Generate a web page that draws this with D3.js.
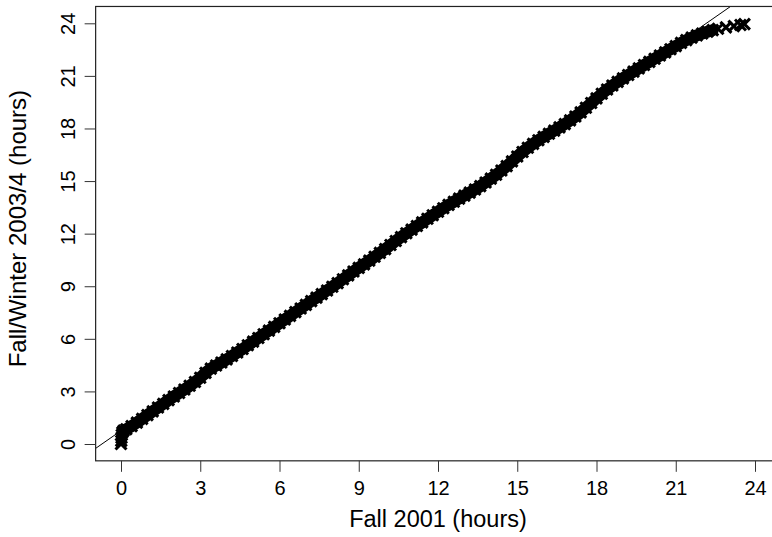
<!DOCTYPE html>
<html>
<head>
<meta charset="utf-8">
<script src="https://cdn.jsdelivr.net/npm/d3@7"></script>
<style>
  html, body { margin: 0; padding: 0; background: #fff; }
  svg { display: block; }
  text { font-family: "Liberation Sans", Arial, Helvetica, sans-serif; fill: #000; }
</style>
</head>
<body>
<svg id="chart" width="772" height="537"></svg>
<script>
// Quantile pairs: Fall 2001 (hours) vs Fall/Winter 2003/4 (hours)
const fall2001 = [
  0.00, 0.01, 0.02, 0.03, 0.05, 0.10,
  0.2, 0.4, 0.6, 0.8, 1.0, 1.2, 1.4, 1.6, 1.8, 2.0,
  2.2, 2.4, 2.6, 2.8, 3.0, 3.2, 3.4, 3.6, 3.8, 4.0,
  4.2, 4.4, 4.6, 4.8, 5.0, 5.2, 5.4, 5.6, 5.8, 6.0,
  6.2, 6.4, 6.6, 6.8, 7.0, 7.2, 7.4, 7.6, 7.8, 8.0,
  8.2, 8.4, 8.6, 8.8, 9.0, 9.2, 9.4, 9.6, 9.8, 10.0,
  10.2, 10.4, 10.6, 10.8, 11.0, 11.2, 11.4, 11.6, 11.8, 12.0,
  12.2, 12.4, 12.6, 12.8, 13.0, 13.2, 13.4, 13.6, 13.8, 14.0,
  14.2, 14.4, 14.6, 14.8, 15.0, 15.2, 15.4, 15.6, 15.8, 16.0,
  16.2, 16.4, 16.6, 16.8, 17.0, 17.2, 17.4, 17.6, 17.8, 18.0,
  18.2, 18.4, 18.6, 18.8, 19.0, 19.2, 19.4, 19.6, 19.8, 20.0,
  20.2, 20.4, 20.6, 20.8, 21.0, 21.2, 21.4, 21.6, 21.8, 22.0,
  22.2, 22.4, 22.6, 22.9, 23.2, 23.45, 23.6
];
const fallWinter2003 = [
  0.00, 0.18, 0.36, 0.52, 0.66, 0.76,
  0.84, 1.02, 1.22, 1.43, 1.65, 1.86, 2.08, 2.29, 2.50, 2.71,
  2.91, 3.11, 3.32, 3.54, 3.78, 4.06, 4.30, 4.48, 4.65, 4.83,
  5.02, 5.22, 5.42, 5.63, 5.84, 6.05, 6.26, 6.47, 6.68, 6.89,
  7.10, 7.31, 7.52, 7.73, 7.94, 8.15, 8.35, 8.55, 8.76, 8.97,
  9.18, 9.40, 9.62, 9.84, 10.05, 10.25, 10.46, 10.68, 10.90, 11.12,
  11.35, 11.58, 11.80, 12.02, 12.23, 12.44, 12.64, 12.85, 13.05, 13.25,
  13.45, 13.64, 13.82, 14.00, 14.17, 14.34, 14.52, 14.71, 14.92, 15.14,
  15.36, 15.60, 15.85, 16.12, 16.40, 16.66, 16.90, 17.12, 17.33, 17.52,
  17.70, 17.88, 18.06, 18.25, 18.46, 18.68, 18.92, 19.18, 19.45, 19.72,
  19.98, 20.22, 20.45, 20.66, 20.86, 21.05, 21.24, 21.43, 21.62, 21.80,
  21.98, 22.16, 22.34, 22.52, 22.70, 22.88, 23.04, 23.18, 23.31, 23.42,
  23.52, 23.61, 23.69, 23.77, 23.84, 23.90, 23.95
];
const xTicks = [0, 3, 6, 9, 12, 15, 18, 21, 24];
const yTicks = [0, 3, 6, 9, 12, 15, 18, 21, 24];
// Reference line y = a + b * x
const refIntercept = 0.757;
const refSlope = 1.049;

const xLabel = "Fall 2001 (hours)";
const yLabel = "Fall/Winter 2003/4 (hours)";

const svg = d3.select("#chart");
const lim = [-0.96, 24.96];

const x = d3.scaleLinear().domain([0, 24]).range([121, 755]);
const y = d3.scaleLinear().domain([0, 24]).range([444, 23.3]);

const plotLeft = x(lim[0]), plotRight = x(lim[1]);
const plotTop = y(lim[1]), plotBottom = y(lim[0]);

svg.append("clipPath").attr("id", "plotclip")
  .append("rect")
  .attr("x", plotLeft).attr("y", plotTop)
  .attr("width", plotRight - plotLeft).attr("height", plotBottom - plotTop);

// Reference line
svg.append("line")
  .attr("clip-path", "url(#plotclip)")
  .attr("x1", x(lim[0])).attr("y1", y(refIntercept + refSlope * lim[0]))
  .attr("x2", x(lim[1])).attr("y2", y(refIntercept + refSlope * lim[1]))
  .attr("stroke", "#000").attr("stroke-width", 1);

const pts = fall2001.map((v, i) => [v, fallWinter2003[i]]);

// Where the quantiles are packed tightly the marks merge into a solid band
const dense = pts.filter(d => d[0] >= 0.1 && d[0] <= 22.4);
svg.append("path")
  .datum(dense)
  .attr("d", d3.line().x(d => x(d[0])).y(d => y(d[1])).curve(d3.curveMonotoneX))
  .attr("fill", "none")
  .attr("stroke", "#000")
  .attr("stroke-width", 12)
  .attr("stroke-linecap", "round")
  .attr("stroke-linejoin", "round");

// Points drawn as "x" marks
const s = 5.5;
svg.append("g")
  .selectAll("path")
  .data(pts)
  .join("path")
  .attr("transform", d => `translate(${x(d[0])},${y(d[1])})`)
  .attr("d", `M${-s},${-s}L${s},${s}M${-s},${s}L${s},${-s}`)
  .attr("stroke", "#000")
  .attr("stroke-width", 3)
  .attr("fill", "none");

// Frame
svg.append("rect")
  .attr("x", plotLeft).attr("y", plotTop)
  .attr("width", plotRight - plotLeft).attr("height", plotBottom - plotTop)
  .attr("fill", "none").attr("stroke", "#222").attr("stroke-width", 1.2);

// Bottom axis
const xAxis = d3.axisBottom(x).tickValues(xTicks).tickSize(11).tickPadding(9)
  .tickFormat(d3.format("d"));
const gx = svg.append("g").attr("transform", `translate(0,${plotBottom})`).call(xAxis);
gx.select(".domain").remove();
gx.selectAll("line").attr("stroke", "#333");
gx.selectAll("text").attr("font-size", 20).attr("font-family", "Liberation Sans, Arial, sans-serif");

// Left axis with labels rotated parallel to the axis
const yAxis = d3.axisLeft(y).tickValues(yTicks).tickSize(11).tickPadding(0)
  .tickFormat(d3.format("d"));
const gy = svg.append("g").attr("transform", `translate(${plotLeft},0)`).call(yAxis);
gy.select(".domain").remove();
gy.selectAll("line").attr("stroke", "#333");
gy.selectAll("text")
  .attr("font-size", 20)
  .attr("font-family", "Liberation Sans, Arial, sans-serif")
  .attr("text-anchor", "middle")
  .attr("x", null).attr("dy", null)
  .attr("transform", `translate(${75 - plotLeft},0) rotate(-90)`);

// Axis titles
svg.append("text")
  .attr("x", (plotLeft + plotRight) / 2).attr("y", 527)
  .attr("text-anchor", "middle").attr("font-size", 23.5)
  .text(xLabel);

svg.append("text")
  .attr("transform", `translate(26,${(plotTop + plotBottom) / 2 - 5}) rotate(-90)`)
  .attr("text-anchor", "middle").attr("font-size", 24)
  .text(yLabel);
</script>
</body>
</html>
